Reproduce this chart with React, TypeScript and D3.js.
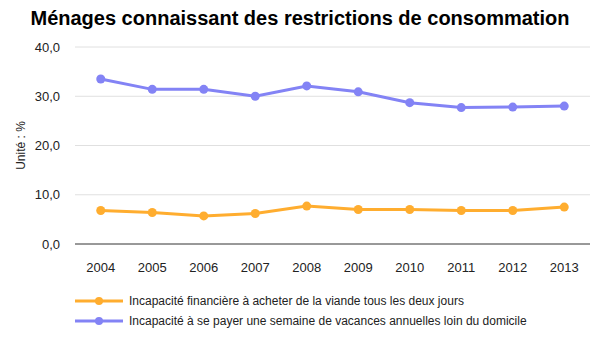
import React, { useEffect, useRef } from 'react';
import * as d3 from 'd3';

const years = ['2004', '2005', '2006', '2007', '2008', '2009', '2010', '2011', '2012', '2013'];
const viande = [6.8, 6.4, 5.7, 6.2, 7.7, 7.0, 7.0, 6.8, 6.8, 7.5];
const vacances = [33.5, 31.4, 31.4, 30.0, 32.1, 30.9, 28.7, 27.7, 27.8, 28.0];
const yTicks = [0, 10, 20, 30, 40];
const seriesNames = [
  'Incapacité financière à acheter de la viande tous les deux jours',
  'Incapacité à se payer une semaine de vacances annuelles loin du domicile',
];
const colors = ['#FFAD2F', '#8383F5'];

const App = () => {
  const ref = useRef<SVGSVGElement>(null);

  useEffect(() => {
    const svg = d3.select(ref.current);
    svg.selectAll('*').remove();

    const width = 600;
    const height = 350;
    const margin = { top: 47, right: 10, bottom: 106, left: 75 };
    const innerW = width - margin.left - margin.right;
    const innerH = height - margin.top - margin.bottom;
    const font = 'Liberation Sans, Arial, sans-serif';

    svg.append('text')
      .attr('x', width / 2)
      .attr('y', 25)
      .attr('text-anchor', 'middle')
      .style('font-family', font)
      .style('font-size', '20px')
      .style('font-weight', 'bold')
      .attr('fill', '#000')
      .text('Ménages connaissant des restrictions de consommation');

    const x = d3.scalePoint<string>().domain(years).range([0, innerW]).padding(0.5);
    const y = d3.scaleLinear().domain([0, 40]).range([innerH, 0]);

    const g = svg.append('g').attr('transform', `translate(${margin.left},${margin.top})`);

    // grid
    g.selectAll('.grid')
      .data(yTicks.filter(t => t > 0))
      .enter()
      .append('line')
      .attr('x1', 0)
      .attr('x2', innerW)
      .attr('y1', d => y(d))
      .attr('y2', d => y(d))
      .attr('stroke', '#e0e0e0')
      .attr('stroke-width', 1);

    g.append('line')
      .attr('x1', 0)
      .attr('x2', innerW)
      .attr('y1', y(0))
      .attr('y2', y(0))
      .attr('stroke', '#333')
      .attr('stroke-width', 1);

    // y labels
    g.selectAll('.ylab')
      .data(yTicks)
      .enter()
      .append('text')
      .attr('x', -15)
      .attr('y', d => y(d))
      .attr('dy', '0.35em')
      .attr('text-anchor', 'end')
      .style('font-family', font)
      .style('font-size', '13px')
      .attr('fill', '#222')
      .text(d => d3.format('.1f')(d).replace('.', ','));

    // x labels
    g.selectAll('.xlab')
      .data(years)
      .enter()
      .append('text')
      .attr('x', d => x(d)!)
      .attr('y', innerH + 28)
      .attr('text-anchor', 'middle')
      .style('font-family', font)
      .style('font-size', '13px')
      .attr('fill', '#222')
      .text(d => d);

    svg.append('text')
      .attr('transform', `translate(25,${margin.top + innerH / 2}) rotate(-90)`)
      .attr('text-anchor', 'middle')
      .style('font-family', font)
      .style('font-size', '12px')
      .attr('fill', '#222')
      .text('Unité : %');

    const line = d3.line<number>()
      .x((_, i) => x(years[i])!)
      .y(d => y(d));

    [viande, vacances].forEach((vals, si) => {
      g.append('path')
        .datum(vals)
        .attr('fill', 'none')
        .attr('stroke', colors[si])
        .attr('stroke-width', 3)
        .attr('d', line);

      g.selectAll(`.dot${si}`)
        .data(vals)
        .enter()
        .append('circle')
        .attr('cx', (_, i) => x(years[i])!)
        .attr('cy', d => y(d))
        .attr('r', 4.5)
        .attr('fill', colors[si]);
    });

    // legend
    const legend = svg.append('g');
    seriesNames.forEach((name, i) => {
      const ly = 301 + i * 20;
      legend.append('line')
        .attr('x1', 75)
        .attr('x2', 123)
        .attr('y1', ly)
        .attr('y2', ly)
        .attr('stroke', colors[i])
        .attr('stroke-width', 3);
      legend.append('circle')
        .attr('cx', 99)
        .attr('cy', ly)
        .attr('r', 4)
        .attr('fill', colors[i]);
      legend.append('text')
        .attr('x', 129)
        .attr('y', ly)
        .attr('dy', '0.35em')
        .style('font-family', font)
        .style('font-size', '12px')
        .attr('fill', '#222')
        .text(name);
    });
  }, []);

  return (
    <div>
      <svg ref={ref} width={600} height={350} style={{ position: 'absolute', left: 0, top: 0 }}></svg>
    </div>
  );
};

export default App;
